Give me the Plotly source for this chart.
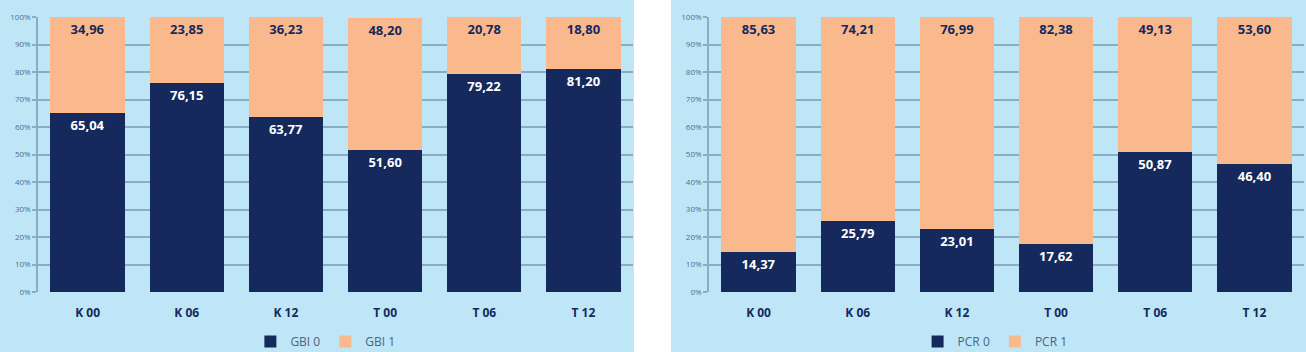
import plotly.graph_objects as go

categories = ["K 00", "K 06", "K 12", "T 00", "T 06", "T 12"]
gbi0 = [65.04, 76.15, 63.77, 51.60, 79.22, 81.20]
gbi1 = [34.96, 23.85, 36.23, 48.20, 20.78, 18.80]
pcr0 = [14.37, 25.79, 23.01, 17.62, 50.87, 46.40]
pcr1 = [85.63, 74.21, 76.99, 82.38, 49.13, 53.60]
y_ticks = list(range(0, 101, 10))
y_tick_labels = [f"{v}%" for v in y_ticks]

NAVY = "#15295c"
PEACH = "#f9b98d"
BG = "#bee6f7"
GRID = "#8aacc4"
FONT = "Open Sans"


def fmt(v):
    return f"{v:.2f}".replace(".", ",")


fig = go.Figure()


def add_pair(v0, v1, n0, n1, xa, ya, leg):
    fig.add_trace(go.Bar(
        x=categories, y=v0, name=n0, marker=dict(color=NAVY, line=dict(width=0)),
        text=[fmt(v) for v in v0], textposition="inside", insidetextanchor="end",
        textfont=dict(color="white", size=13, family=FONT, weight="bold"),
        xaxis=xa, yaxis=ya, legend=leg, cliponaxis=False))
    fig.add_trace(go.Bar(
        x=categories, y=v1, name=n1, marker=dict(color=PEACH, line=dict(width=0)),
        text=[fmt(v) for v in v1], textposition="inside", insidetextanchor="end",
        textfont=dict(color=NAVY, size=13, family=FONT, weight="bold"),
        xaxis=xa, yaxis=ya, legend=leg, cliponaxis=False))


add_pair(gbi0, gbi1, "GBI 0", "GBI 1", "x", "y", "legend")
add_pair(pcr0, pcr1, "PCR 0", "PCR 1", "x2", "y2", "legend2")

xaxis_common = dict(
    showgrid=False, zeroline=False, showline=False, ticks="",
    tickfont=dict(size=12, color=NAVY, family=FONT, weight="bold"),
    ticklabelstandoff=12,
)
yaxis_common = dict(
    range=[0, 100], tickvals=y_ticks, ticktext=y_tick_labels,
    showgrid=True, gridcolor=GRID, gridwidth=1.5, zeroline=False,
    showline=True, linecolor=GRID, linewidth=1.5,
    ticks="outside", ticklen=4, tickcolor=GRID, tickwidth=1.5,
    tickfont=dict(size=8, color="#4d6f8f", family=FONT),
)

legend_common = dict(
    orientation="h", y=-0.18, xanchor="center", yanchor="middle",
    font=dict(size=12, color="#4a6580", family=FONT),
    bgcolor="rgba(0,0,0,0)", itemwidth=30, tracegroupgap=0, traceorder="normal",
)

fig.update_layout(
    width=1306, height=352,
    margin=dict(l=38, r=2, t=17, b=60, autoexpand=False),
    paper_bgcolor=BG, plot_bgcolor=BG,
    barmode="stack", bargap=0.25,
    showlegend=True,
    xaxis=dict(domain=[0, 0.470], **xaxis_common),
    xaxis2=dict(domain=[0.530, 1.0], **xaxis_common),
    yaxis=dict(anchor="x", **yaxis_common),
    yaxis2=dict(anchor="x2", **yaxis_common),
    legend=dict(x=0.227, **legend_common),
    legend2=dict(x=0.756, **legend_common),
    shapes=[dict(type="rect", xref="paper", yref="paper",
                 x0=0.4708, x1=0.5, y0=-0.3, y1=1.1,
                 fillcolor="white", line=dict(width=0), layer="below")],
    font=dict(family=FONT),
)

fig.write_html("out.html")
